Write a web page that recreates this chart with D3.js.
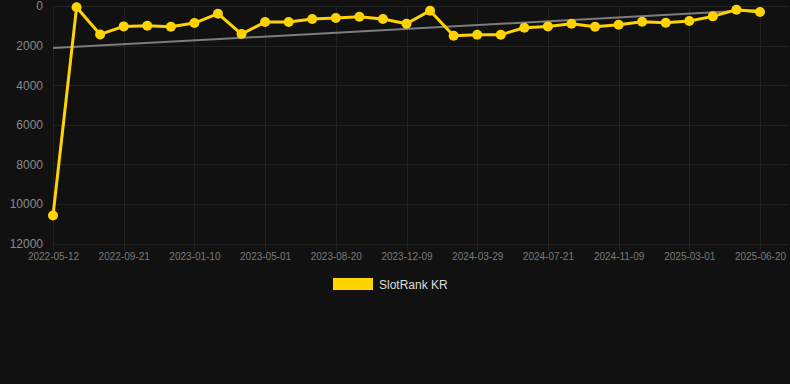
<!DOCTYPE html>
<html>
<head>
<meta charset="utf-8">
<script src="https://cdn.jsdelivr.net/npm/d3@7"></script>
<style>
  html, body { margin: 0; padding: 0; background: #111111; }
  svg { display: block; }
  text { font-family: "Liberation Sans", Arial, sans-serif; }
</style>
</head>
<body>
<svg id="chart" width="790" height="384"></svg>
<script>
const dates = [
  "2022-05-12","2022-06-25","2022-08-08","2022-09-21","2022-10-28","2022-12-04",
  "2023-01-10","2023-02-16","2023-03-25","2023-05-01","2023-06-07","2023-07-14",
  "2023-08-20","2023-09-26","2023-11-02","2023-12-09","2024-01-15","2024-02-21",
  "2024-03-29","2024-05-06","2024-06-13","2024-07-21","2024-08-27","2024-10-03",
  "2024-11-09","2024-12-16","2025-01-22","2025-03-01","2025-04-07","2025-05-14",
  "2025-06-20"
];
const rankKR = [
  10580, 66, 1435, 1030, 995, 1045,
  860, 390, 1418, 810, 810, 658,
  608, 540, 658, 895, 236, 1500,
  1450, 1450, 1096, 1030, 895, 1045,
  945, 793, 843, 760, 523, 185,
  303
];
const yTicks = [0, 2000, 4000, 6000, 8000, 10000, 12000];
const seriesName = "SlotRank KR";

const svg = d3.select("#chart");
const W = 790, H = 384;
svg.append("rect").attr("width", W).attr("height", H).attr("fill", "#111111");

const plotL = 53, plotR = 760, gridR = 789, plotT = 6, plotB = 243.6;

const x = d3.scalePoint().domain(dates).range([plotL, plotR]);
const y = d3.scaleLinear().domain([0, 12000]).range([plotT, plotB]);

const gridColor = "#222222";
const tickDates = dates.filter((d, i) => i % 3 === 0);

// horizontal grid
const g = svg.append("g");
g.selectAll("line.h").data(yTicks).enter().append("line")
  .attr("x1", plotL).attr("x2", gridR)
  .attr("y1", d => Math.round(y(d)) + 0.5).attr("y2", d => Math.round(y(d)) + 0.5)
  .attr("stroke", gridColor).attr("stroke-width", 1);

// vertical grid
g.selectAll("line.v").data(tickDates).enter().append("line")
  .attr("x1", d => Math.round(x(d)) + 0.5).attr("x2", d => Math.round(x(d)) + 0.5)
  .attr("y1", plotT).attr("y2", plotB + 7)
  .attr("stroke", gridColor).attr("stroke-width", 1);

// y axis labels
const yAxis = d3.axisLeft(y).tickValues(yTicks).tickSize(0).tickPadding(0).tickFormat(d3.format("d"));
const ya = svg.append("g").attr("transform", "translate(43,0)").call(yAxis);
ya.select(".domain").remove();
ya.selectAll("text").attr("fill", "#8a8a8a").attr("font-size", 12)
  .attr("font-family", "'Liberation Sans', Arial, sans-serif");

// x axis labels
const xAxis = d3.axisBottom(x).tickValues(tickDates).tickSize(0).tickPadding(0);
const xa = svg.append("g").attr("transform", "translate(0,253)").call(xAxis);
xa.select(".domain").remove();
xa.selectAll("text").attr("fill", "#7a7a7a").attr("font-size", 10)
  .attr("font-family", "'Liberation Sans', Arial, sans-serif");

// linear regression trend line
const n = rankKR.length;
const idx = d3.range(n);
const mx = d3.mean(idx), my = d3.mean(rankKR);
const slope = d3.sum(idx, i => (i - mx) * (rankKR[i] - my)) / d3.sum(idx, i => (i - mx) * (i - mx));
const icpt = my - slope * mx;
const trend = [0, n - 1].map(i => ({ d: dates[i], v: icpt + slope * i }));
svg.append("path")
  .attr("d", d3.line().x(p => x(p.d)).y(p => y(p.v))(trend))
  .attr("stroke", "#7d7d7d").attr("stroke-width", 2).attr("fill", "none");

// data line
const pts = dates.map((d, i) => ({ d, v: rankKR[i] }));
svg.append("path")
  .attr("d", d3.line().x(p => x(p.d)).y(p => y(p.v))(pts))
  .attr("stroke", "#FFD300").attr("stroke-width", 3).attr("fill", "none")
  .attr("stroke-linejoin", "round");

svg.selectAll("circle.pt").data(pts).enter().append("circle")
  .attr("cx", p => x(p.d)).attr("cy", p => y(p.v)).attr("r", 5)
  .attr("fill", "#FFD300");

// legend
svg.append("rect").attr("x", 333).attr("y", 278).attr("width", 40).attr("height", 12)
  .attr("fill", "#FFD300");
svg.append("text").attr("x", 379).attr("y", 288.5).text(seriesName)
  .attr("fill", "#dddddd").attr("font-size", 12);
</script>
</body>
</html>
